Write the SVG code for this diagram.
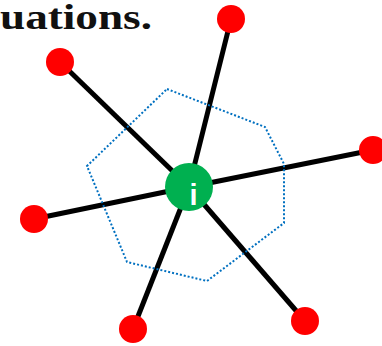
<svg xmlns="http://www.w3.org/2000/svg" width="382" height="346" viewBox="0 0 382 346">
  <style>
    .edge { stroke: #000; stroke-width: 5; fill: none; }
    .nbr { fill: #FF0000; }
    .hull { fill: none; stroke: #0070C0; stroke-width: 2; stroke-dasharray: 2 2; }
    .title { font-family: "Liberation Serif", "DejaVu Serif", serif; font-weight: bold; font-size: 36px; fill: #111; }
    .lbl { font-family: "Liberation Sans", Arial, sans-serif; font-weight: bold; font-size: 29px; fill: #fff; }
  </style>
  <rect width="382" height="346" fill="#fff"/>
  <text class="title" x="0" y="29" textLength="152" lengthAdjust="spacingAndGlyphs">uations.</text>

  <g id="connectors">
    <line class="edge" x1="189" y1="187" x2="231" y2="19"/>
    <line class="edge" x1="189" y1="187" x2="60" y2="62"/>
    <line class="edge" x1="189" y1="187" x2="373" y2="150"/>
    <line class="edge" x1="189" y1="187" x2="34" y2="219"/>
    <line class="edge" x1="189" y1="187" x2="133" y2="329"/>
    <line class="edge" x1="189" y1="187" x2="305" y2="321"/>
  </g>

  <g id="cell">
    <polygon class="hull" points="167,89 265,127 284,164 284,223 207,281 127,262 87,166"/>
  </g>

  <g id="n-top"><circle class="nbr" cx="231" cy="19" r="14"/></g>
  <g id="n-upleft"><circle class="nbr" cx="60" cy="62" r="14"/></g>
  <g id="n-right"><circle class="nbr" cx="373" cy="150" r="14"/></g>
  <g id="n-left"><circle class="nbr" cx="34" cy="219" r="14"/></g>
  <g id="n-bottom"><circle class="nbr" cx="133" cy="329" r="14"/></g>
  <g id="n-lowright"><circle class="nbr" cx="305" cy="321" r="14"/></g>

  <g id="node-i">
    <circle cx="189" cy="187" r="24" fill="#00B050"/>
    <text class="lbl" x="193.5" y="205" text-anchor="middle">i</text>
  </g>
</svg>
